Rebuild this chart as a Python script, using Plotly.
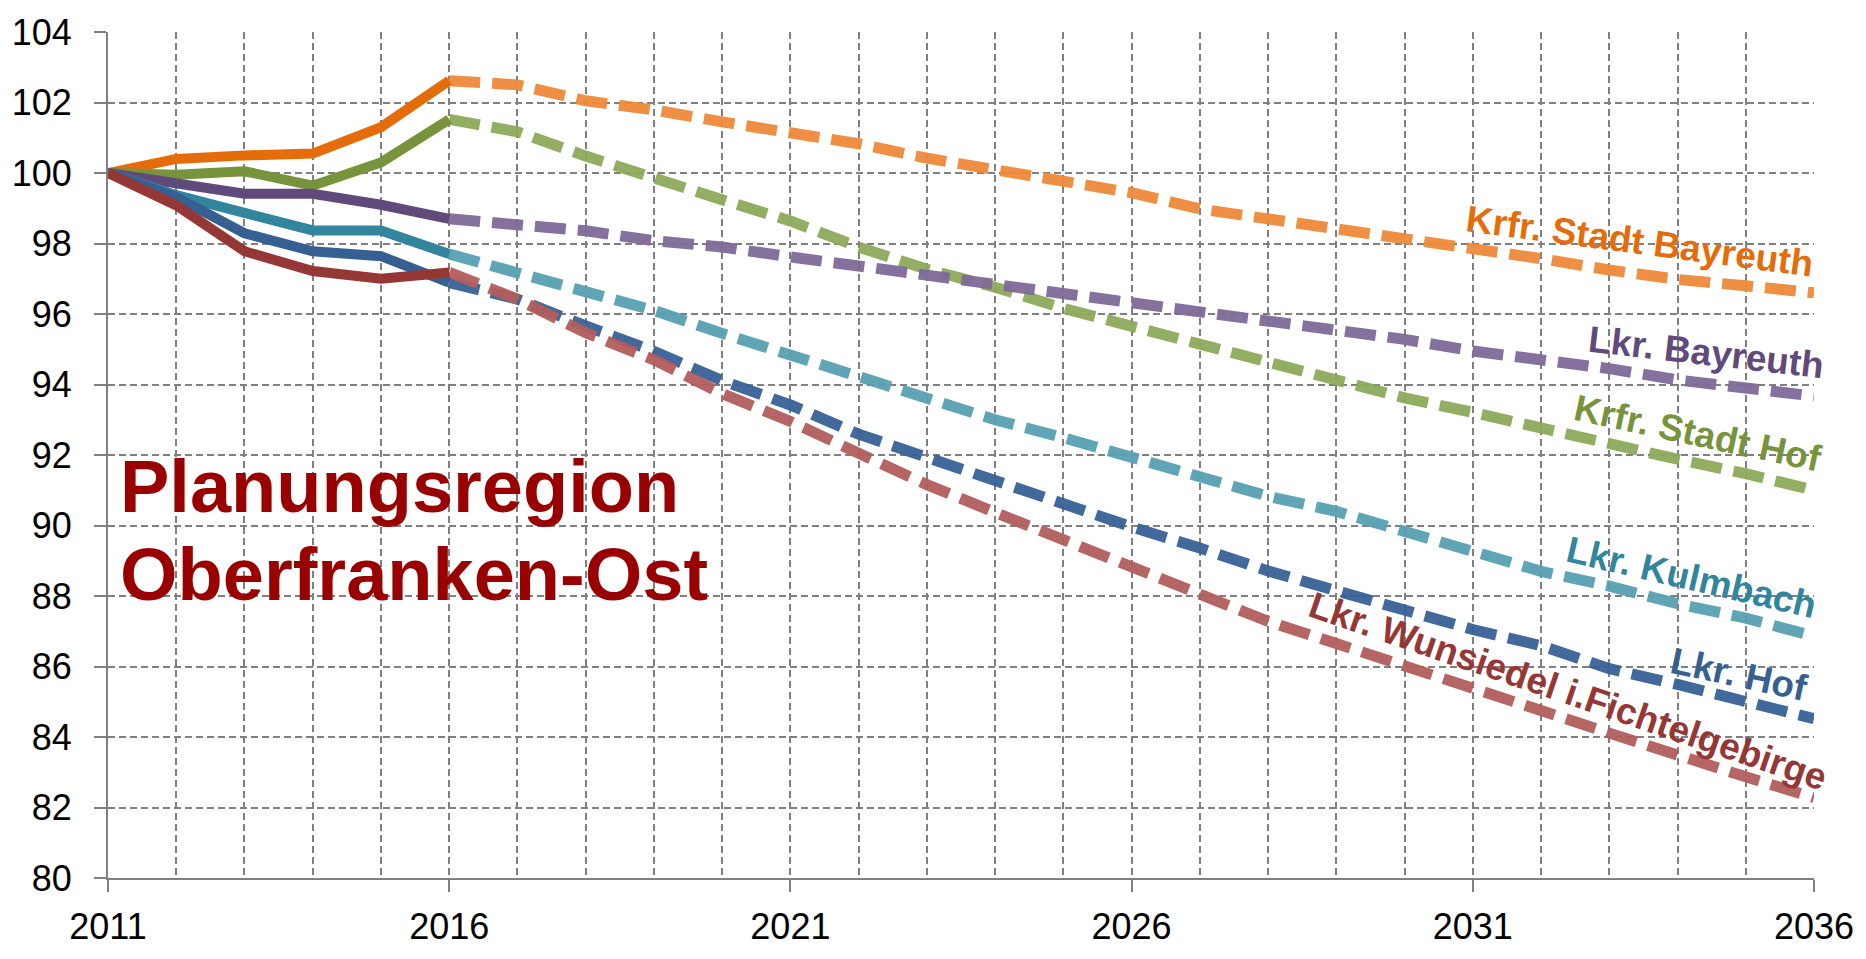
import plotly.graph_objects as go

years = list(range(2011, 2037))

stadt_bayreuth = [100, 100.4, 100.5, 100.55, 101.3, 102.62, 102.5, 102.05, 101.79, 101.45, 101.12, 100.83, 100.42,
                  100.09, 99.72, 99.44, 98.98, 98.7, 98.42, 98.2, 97.89, 97.57, 97.25, 96.98, 96.8, 96.6]
stadt_hof = [100, 99.95, 100.05, 99.64, 100.3, 101.52, 101.17, 100.48, 99.83, 99.24, 98.64, 97.9, 97.27,
             96.76, 96.16, 95.65, 95.19, 94.63, 94.15, 93.62, 93.21, 92.75, 92.34, 91.88, 91.47, 91.0]
lkr_bayreuth = [100, 99.73, 99.41, 99.41, 99.1, 98.7, 98.56, 98.36, 98.08, 97.9, 97.62, 97.36, 97.08,
                96.85, 96.57, 96.31, 96.02, 95.79, 95.55, 95.28, 94.95, 94.72, 94.45, 94.13, 93.9, 93.67]
lkr_kulmbach = [100, 99.37, 98.87, 98.37, 98.37, 97.7, 97.18, 96.65, 96.1, 95.45, 94.85, 94.2, 93.58,
                93.0, 92.49, 91.94, 91.43, 90.83, 90.4, 89.84, 89.29, 88.7, 88.28, 87.78, 87.37, 86.86]
lkr_hof = [100, 99.32, 98.29, 97.78, 97.64, 96.89, 96.42, 95.66, 94.94, 94.11, 93.42, 92.59, 91.94,
           91.27, 90.56, 89.96, 89.36, 88.71, 88.15, 87.6, 87.05, 86.59, 85.94, 85.49, 85.03, 84.52]
lkr_wunsiedel = [100, 99.08, 97.78, 97.22, 97.0, 97.18, 96.42, 95.47, 94.7, 93.74, 92.95, 92.05, 91.16,
                 90.37, 89.59, 88.8, 88.06, 87.28, 86.65, 86.04, 85.39, 84.75, 84.11, 83.47, 82.87, 82.28]

names = ["Krfr. Stadt Bayreuth", "Krfr. Stadt Hof", "Lkr. Bayreuth", "Lkr. Kulmbach", "Lkr. Hof",
         "Lkr. Wunsiedel i.Fichtelgebirge"]
values = [stadt_bayreuth, stadt_hof, lkr_bayreuth, lkr_kulmbach, lkr_hof, lkr_wunsiedel]

x_ticks = [2011, 2016, 2021, 2026, 2031, 2036]
y_ticks = list(range(80, 105, 2))
split_year = 2016

# styles (not data)
solid_colors = ["#E46C0A", "#77933C", "#604A7B", "#31859C", "#376092", "#953735"]
dash_colors = ["#EE8A3A", "#8DAA5B", "#7F6A98", "#58A1B3", "#376196", "#B25E5C"]
label_colors = ["#E46C0A", "#77933C", "#5F4A7B", "#31859C", "#376092", "#953735"]
label_pos = [(2033.45, 98.06, 7.5), (2034.3, 92.61, 12), (2034.42, 94.92, 6.5),
             (2034.2, 88.53, 13), (2034.9, 85.78, 12), (2032.4, 85.3, 18.8)]

FONT = "Liberation Sans, Arial, sans-serif"
GRID = "#808080"

fig = go.Figure()
split_idx = years.index(split_year)
for name, vals, sc, dc in zip(names, values, solid_colors, dash_colors):
    fig.add_trace(go.Scatter(x=years[split_idx:], y=vals[split_idx:], mode="lines", name=name,
                             line=dict(color=dc, width=11, dash="31px,12px"), opacity=0.95,
                             showlegend=False, hoverinfo="x+y+name"))
for name, vals, sc, dc in zip(names, values, solid_colors, dash_colors):
    fig.add_trace(go.Scatter(x=years[:split_idx + 1], y=vals[:split_idx + 1], mode="lines", name=name,
                             line=dict(color=sc, width=10), showlegend=False, hoverinfo="x+y+name"))

for name, col, (lx, ly, ang) in zip(names, label_colors, label_pos):
    fig.add_annotation(x=lx, y=ly, text=f"<b>{name}</b>", showarrow=False, textangle=ang,
                       font=dict(family=FONT, size=37, color=col), xanchor="center", yanchor="middle")

fig.add_annotation(xref="paper", yref="paper", x=0.006, y=(896 - 493) / (896 - 24.5),
                   text="<b>Planungsregion</b>", showarrow=False, xanchor="left", yanchor="middle",
                   font=dict(family=FONT, size=74, color="#990000"))
fig.add_annotation(xref="paper", yref="paper", x=0.006, y=(896 - 583) / (896 - 24.5),
                   text="<b>Oberfranken-Ost</b>", showarrow=False, xanchor="left", yanchor="middle",
                   font=dict(family=FONT, size=74, color="#990000"))

fig.update_layout(
    width=1866, height=959,
    margin=dict(l=104, r=49, t=24, b=63),
    paper_bgcolor="white", plot_bgcolor="white",
    font=dict(family=FONT, size=36, color="#000000"),
    xaxis=dict(range=[2011, 2036], tickvals=x_ticks, ticktext=[str(v) for v in x_ticks],
               showgrid=True, gridcolor=GRID, gridwidth=1.5, griddash="7px,4px",
               showline=True, linecolor=GRID, linewidth=2, ticks="outside", ticklen=12,
               tickcolor=GRID, tickwidth=2, zeroline=False, ticklabelstandoff=4,
               minor=dict(dtick=1, tick0=2011, showgrid=True, gridcolor=GRID, gridwidth=1.5,
                          griddash="7px,4px", ticks="")),
    yaxis=dict(range=[80, 104], tickvals=y_ticks, showgrid=True, gridcolor=GRID, gridwidth=1.5,
               griddash="7px,4px", showline=True, linecolor=GRID, linewidth=2, ticks="outside",
               ticklen=12, tickcolor=GRID, tickwidth=1.5, zeroline=False, ticklabelstandoff=15),
)

fig.write_html("out.html", config={"displayModeBar": False},
               post_script="document.body.style.margin='0';document.body.style.overflow='hidden';")
